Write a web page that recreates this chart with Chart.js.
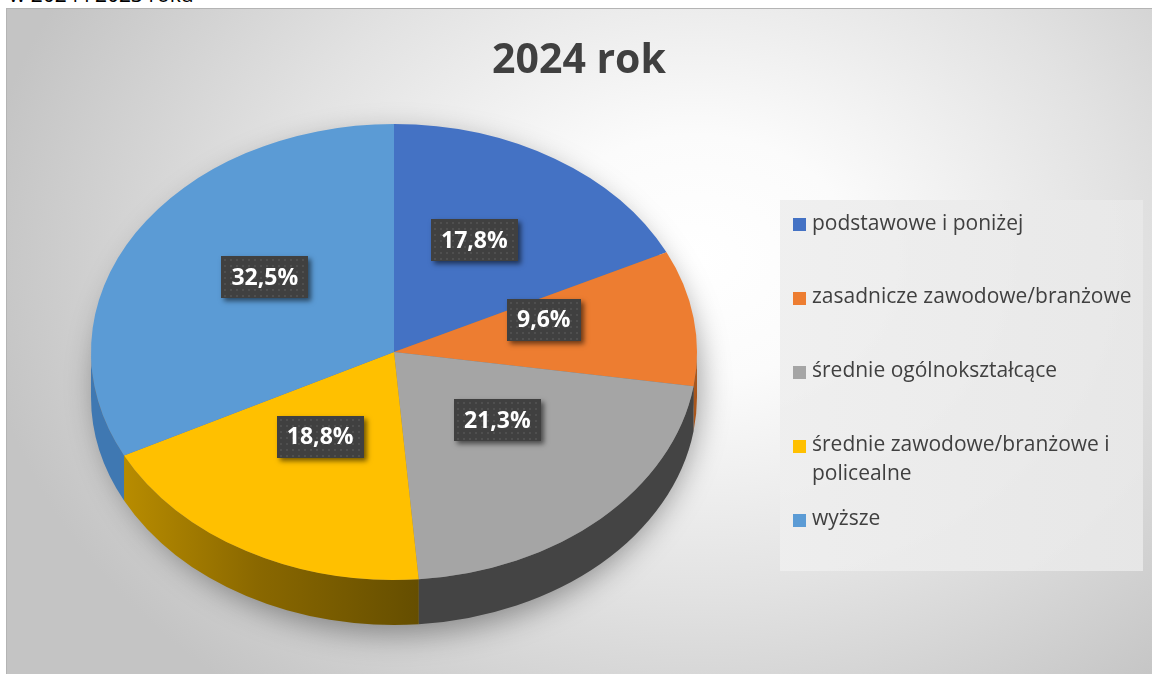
<!DOCTYPE html>
<html>
<head>
<meta charset="utf-8">
<script src="https://cdn.jsdelivr.net/npm/chart.js@4.4.1/dist/chart.umd.min.js"></script>
<style>
html,body{margin:0;padding:0;background:#fff;width:1152px;height:674px;overflow:hidden;font-family:"Open Sans",sans-serif;}
#caption{position:absolute;left:9px;top:-17px;font-size:21px;line-height:22px;color:#000;white-space:nowrap;}
#box{position:absolute;left:6px;top:8px;width:1146px;height:666px;
  background:radial-gradient(ellipse 720px 560px at 690px 250px,#ffffff 0%,#fbfbfb 22%,#e2e2e2 60%,#c4c4c4 100%);
  box-shadow:inset 1px 1px 0 #b4b4b4;}
#box canvas{position:absolute;left:0;top:0;}
#legend{position:absolute;left:774px;top:192px;width:363px;height:371px;box-sizing:border-box;padding-top:7.5px;
  background:linear-gradient(90deg,rgba(238,238,238,0.9),rgba(232,232,232,0.9));}
.item{position:relative;height:73.9px;}
.mk{position:absolute;left:13px;top:10.5px;width:13px;height:13px;}
.tx{position:absolute;left:32px;top:0;width:328px;font-size:21px;line-height:29px;color:#404040;}
</style>
</head>
<body>
<div id="caption"></div>
<div id="box">
  <canvas id="c" width="1146" height="666"></canvas>
  <div id="legend"></div>
</div>
<script>
// ---- data ----
const categories = ['podstawowe i poniżej', 'zasadnicze zawodowe/branżowe', 'średnie ogólnokształcące', 'średnie zawodowe/branżowe i policealne', 'wyższe'];
const values = [17.8, 9.6, 21.3, 18.8, 32.5];
const titleText = '2024 rok';
const captionText = 'w 2024 i 2023 roku';

// ---- styles ----
const sliceColors = ['#4472C4', '#ED7D31', '#A5A5A5', '#FFC000', '#5B9BD5'];
const sideColors = ['#2F5597', '#A9561C', '#444444', null, '#3F78B2'];
const geo = {cx: 388, cy: 344, rx: 303, ry: 228, depth: 45, labelR: 0.5, persp: 15};

document.getElementById('caption').textContent = captionText;

const lg = document.getElementById('legend');
categories.forEach((c, i) => {
  const it = document.createElement('div'); it.className = 'item';
  const mk = document.createElement('div'); mk.className = 'mk'; mk.style.background = sliceColors[i];
  const tx = document.createElement('div'); tx.className = 'tx'; tx.textContent = c;
  it.appendChild(mk); it.appendChild(tx); lg.appendChild(it);
});

const fmt = v => v.toFixed(1).replace('.', ',') + '%';

const pie3d = {
  id: 'pie3d',
  beforeDatasetsDraw(chart) {
    const ctx = chart.ctx;
    const arcs = chart.getDatasetMeta(0).data;
    // soft shadow under the pie body
    ctx.save();
    ctx.shadowColor = 'rgba(0,0,0,0.38)';
    ctx.shadowBlur = 30;
    ctx.shadowOffsetX = 4;
    ctx.shadowOffsetY = 10;
    ctx.fillStyle = '#777';
    ctx.beginPath();
    ctx.ellipse(geo.cx, geo.cy + geo.depth / 2, geo.rx - 1, geo.ry + geo.depth / 2 - 1, 0, 0, Math.PI * 2);
    ctx.fill();
    ctx.restore();
    // front walls
    arcs.forEach((arc, i) => {
      const a = Math.max(arc.startAngle, 0), b = Math.min(arc.endAngle, Math.PI);
      if (b <= a) return;
      ctx.save();
      ctx.beginPath();
      ctx.ellipse(geo.cx, geo.cy, geo.rx, geo.ry, 0, a, b);
      ctx.ellipse(geo.cx, geo.cy + geo.depth, geo.rx, geo.ry, 0, b, a, true);
      ctx.closePath();
      if (sideColors[i]) {
        ctx.fillStyle = sideColors[i];
      } else {
        const x0 = geo.cx + geo.rx * Math.cos(b), x1 = geo.cx + geo.rx * Math.cos(a);
        const g = ctx.createLinearGradient(x0, 0, x1, 0);
        g.addColorStop(0, '#B88C00');
        g.addColorStop(0.45, '#8A6800');
        g.addColorStop(1, '#654E00');
        ctx.fillStyle = g;
      }
      ctx.fill();
      ctx.restore();
    });
    // squash the top face into an ellipse
    const a0 = arcs[0];
    const r = a0.outerRadius;
    ctx.save();
    ctx.translate(geo.cx, geo.cy);
    ctx.scale(geo.rx / r, geo.ry / r);
    ctx.translate(-a0.x, -a0.y);
  },
  afterDatasetsDraw(chart) {
    const ctx = chart.ctx;
    ctx.restore();
    const arcs = chart.getDatasetMeta(0).data;
    ctx.save();
    ctx.font = 'bold 23px "Open Sans"';
    ctx.textAlign = 'center';
    ctx.textBaseline = 'middle';
    arcs.forEach((arc, i) => {
      const m = (arc.startAngle + arc.endAngle) / 2;
      const x = geo.cx + geo.labelR * geo.rx * Math.cos(m);
      const y = geo.cy + geo.labelR * geo.ry * Math.sin(m) - geo.persp;
      const txt = fmt(values[i]);
      const w = Math.round(ctx.measureText(txt).width + 20), h = 42;
      const L = Math.round(x - w / 2), T = Math.round(y - h / 2);
      ctx.save();
      ctx.shadowColor = 'rgba(0,0,0,0.55)';
      ctx.shadowBlur = 5;
      ctx.shadowOffsetX = 3;
      ctx.shadowOffsetY = 3;
      ctx.fillStyle = '#404040';
      ctx.fillRect(L, T, w, h);
      ctx.restore();
      ctx.fillStyle = 'rgba(255,255,255,0.08)';
      for (let dx = 3; dx < w - 1; dx += 6) {
        for (let dy = 3; dy < h - 1; dy += 6) {
          ctx.fillRect(L + dx, T + dy, 2, 2);
        }
      }
      ctx.fillStyle = '#ffffff';
      ctx.fillText(txt, x, y + 1);
    });
    ctx.restore();
  }
};

new Chart(document.getElementById('c'), {
  type: 'pie',
  data: {
    labels: categories,
    datasets: [{
      data: values,
      backgroundColor: sliceColors,
      borderWidth: 0,
      clip: false
    }]
  },
  options: {
    responsive: false,
    animation: false,
    events: [],
    layout: {padding: 0},
    plugins: {
      legend: {display: false},
      tooltip: {enabled: false},
      title: {
        display: true,
        text: titleText,
        color: '#404040',
        font: {family: 'Open Sans', size: 41, weight: 'bold'},
        padding: {top: 29, bottom: 10}
      }
    }
  },
  plugins: [pie3d]
});
</script>
</body>
</html>
